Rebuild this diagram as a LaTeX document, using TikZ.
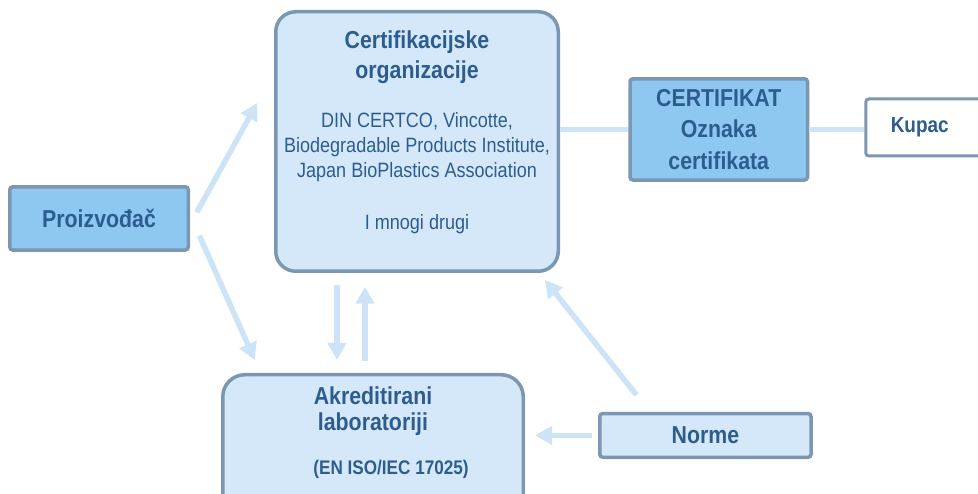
\documentclass[tikz,border=0pt]{standalone}
\usepackage{fontspec}
\setmainfont{Liberation Sans}[FakeStretch=0.87]
\usetikzlibrary{arrows.meta}

\definecolor{txtblue}{HTML}{2D5D8E}
\definecolor{edgegray}{HTML}{7B97B2}
\definecolor{paleblue}{HTML}{D5E8F9}
\definecolor{midblue}{HTML}{8EC7EF}
\definecolor{arrowblue}{HTML}{CCE3F8}

\newcommand{\boxtitle}{\fontsize{24.5}{30}\selectfont\bfseries}
\newcommand{\boxbody}{\fontsize{20.75}{25}\selectfont}
\newcommand{\boxsmall}{\fontsize{19.7}{22}\selectfont\bfseries}

\tikzset{
  box/.style={draw=edgegray, line width=3.5pt, text=txtblue, align=center, inner sep=0pt, outer sep=0pt},
  flow/.style={arrowblue, line width=5.5pt, -{Triangle[width=18pt,length=17pt]}},
  link/.style={arrowblue, line width=5pt},
}

\begin{document}
\begin{tikzpicture}[x=1pt, y=-1pt]
    \useasboundingbox (0,0) rectangle (978,494);

    % Boxes
    \node[box, fill=paleblue, rounded corners=20pt, minimum width=282.5pt, minimum height=259.5pt] (certorg) at (417,141.5)
      {\parbox[c][259.5pt][t]{282pt}{\centering\vspace*{19pt}%
        {\boxtitle Certifikacijske\\organizacije\par}\vspace{24pt}%
        {\boxbody DIN CERTCO, Vincotte,\\Biodegradable Products Institute,\\Japan BioPlastics Association\par}\vspace{27pt}%
        {\boxbody I mnogi drugi\par}}};
    \node[box, fill=paleblue, rounded corners=22pt, minimum width=300.5pt, minimum height=145pt] (akred) at (373,447.25)
      {\parbox[c][145pt][t]{300pt}{\centering\vspace*{11.5pt}%
        {\boxtitle\fontsize{24.5}{26}\selectfont Akreditirani\\laboratoriji\par}\vspace{22pt}%
        {\boxsmall\hspace*{36pt}(EN ISO/IEC 17025)\par}}};
    \node[box, fill=midblue, rounded corners=3pt, minimum width=178.5pt, minimum height=63.25pt, font=\boxtitle] (proizvodac) at (99,218.4) {Proizvođač};
    \node[box, fill=midblue, rounded corners=3pt, minimum width=177.5pt, minimum height=101.25pt, font=\fontsize{24.5}{31.5}\selectfont\bfseries] (cert) at (718.75,129.4) {CERTIFIKAT\\Oznaka\\certifikata};
    \node[box, fill=white, line width=3pt, rounded corners=3pt, anchor=west, minimum height=57pt, text width=82pt, inner xsep=25pt, align=left, font=\fontsize{21.8}{24}\selectfont\bfseries] (kupac) at (865.75,127.5) {Kupac};
    \node[box, fill=paleblue, rounded corners=3pt, minimum width=211.25pt, minimum height=43.75pt, font=\boxtitle] (norme) at (705.4,435.4) {Norme};

    % Links to the certificate
    \draw[link, shorten <=1.75pt, shorten >=1.75pt] (cert.west -| certorg.east) -- (cert.west);
    \draw[link, shorten <=1.75pt, shorten >=1.5pt] (cert.east) -- (cert.east -| kupac.west);

    % Arrows
    \draw[flow, shorten <=17.5pt, shorten >=38.2pt] (proizvodac.-6.5) -- (certorg.153);
    \draw[flow, shorten <=27.6pt, shorten >=16.1pt] (proizvodac.5.6) -- (akred.147.2);
    \draw[flow, shorten <=13.75pt, shorten >=14.75pt] ([xshift=-80pt]certorg.south) -- ([xshift=-80pt]certorg.south |- akred.north);
    \draw[flow, shorten <=14pt, shorten >=15.5pt] ([xshift=-52pt]certorg.south |- akred.north) -- ([xshift=-52pt]certorg.south);
    \draw[flow, shorten <=23.7pt, shorten >=11.2pt] (norme.158) -- (certorg.-47);
    \draw[flow, shorten <=8pt, shorten >=11.75pt] (norme.west) -- (norme.west -| akred.east);
\end{tikzpicture}
\end{document}
